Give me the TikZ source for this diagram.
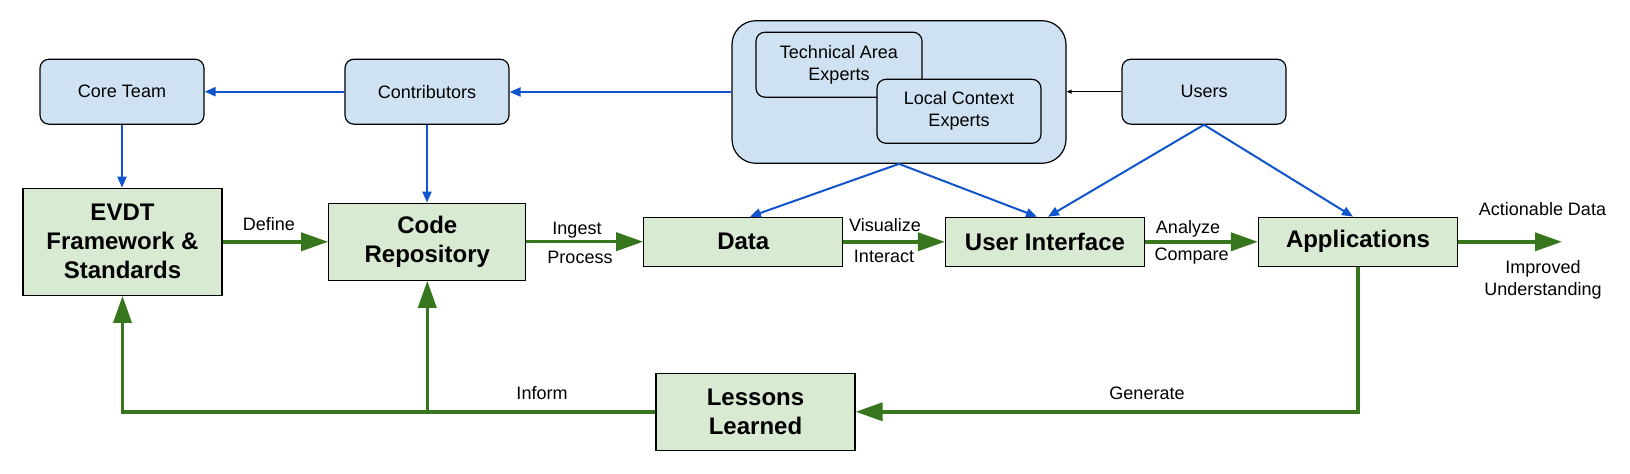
\documentclass[tikz,border=0pt]{standalone}
\usepackage{fontspec}
\setmainfont{Liberation Sans}
\usetikzlibrary{arrows.meta}
\definecolor{boxblue}{HTML}{CFE2F3}
\definecolor{boxgreen}{HTML}{D9EAD3}
\definecolor{lineblue}{HTML}{1155CC}
\definecolor{linegreen}{HTML}{38761D}
\begin{document}
\begin{tikzpicture}[x=0.5pt,y=-0.5pt,
  bluebox/.style={draw=black, line width=0.6pt, fill=boxblue, rounded corners=4.5pt, inner sep=0pt,
    minimum width=82pt, minimum height=32.5pt, font=\fontsize{9}{11}\selectfont, align=center},
  greenbox/.style={draw=black, line width=0.6pt, fill=boxgreen, inner sep=0pt,
    font=\bfseries\fontsize{12}{14.5}\selectfont, align=center, minimum width=99.5pt},
  bluearrow/.style={draw=lineblue, line width=1pt, -{Triangle[length=5.5pt,width=4.5pt]}},
  blackarrow/.style={draw=black, line width=0.5pt, -{Triangle[length=2.5pt,width=2pt]}},
  greenarrow/.style={draw=linegreen, line width=1.8pt, -{Triangle[length=13.5pt,width=9pt]}},
  lbl/.style={font=\fontsize{9}{10.8}\selectfont, inner sep=0pt, anchor=base, align=center}]
\useasboundingbox (0,0) rectangle (1630,474);

% top row
\node[bluebox] (core) at (122,91.7) {Core Team};
\node[bluebox] (contrib) at (427,91.7) {Contributors};
\node[bluebox, rounded corners=12pt, minimum width=167pt, minimum height=71.3pt] (experts) at (899,92) {};
\node[bluebox, minimum width=83pt] (tech) at (839,64.7) {Technical Area\\Experts};
\node[bluebox, minimum height=32pt] (local) at (959,111.3) {Local Context\\Experts};
\node[bluebox] (users) at (1204,91.7) {Users};

% green boxes
\node[greenbox, minimum height=53.5pt] (evdt) at (122.5,241.8) {EVDT\\Framework \&\\Standards};
\node[greenbox, minimum width=98.5pt, minimum height=38.5pt] (code) at (427.3,241.7) {Code\\Repository};
\node[greenbox, minimum height=24.5pt] (data) at (743.3,241.8) {Data};
\node[greenbox, minimum height=24.5pt] (ui) at (1045,241.8) {User Interface};
\node[greenbox, minimum height=24.5pt] (apps) at (1358,241.8) {Applications};
\node[greenbox, minimum height=38.5pt, font=\bfseries\fontsize{12}{14.3}\selectfont] (lessons) at (755.5,411.8) {Lessons\\Learned};

% blue connectors
\draw[bluearrow] (contrib.west) -- (core.east);
\draw[bluearrow] (core.south) -- (core.south |- evdt.north);
\draw[bluearrow] (contrib.south) -- (contrib.south |- code.north);
\draw[bluearrow] (experts.west) -- (experts.west -| contrib.east);
\draw[blackarrow] (users.west) -- (users.west -| experts.east);
\draw[bluearrow] (experts.south) -- ([xshift=3.3pt]data.north);
\draw[bluearrow] (experts.south) -- ([xshift=-4pt]ui.north);
\draw[bluearrow] (users.south) -- ([xshift=1.5pt]ui.north);
\draw[bluearrow] (users.south) -- ([xshift=-2.5pt]apps.north);

% green connectors
\coordinate (out) at (1562,241.8);
\coordinate (j) at (code.south |- lessons.west);
\draw[greenarrow] (evdt.east) -- (evdt.east -| code.west);
\draw[greenarrow] (code.east) -- (code.east -| data.west);
\draw[greenarrow] (data.east) -- (ui.west);
\draw[greenarrow] (ui.east) -- (apps.west);
\draw[greenarrow] (apps.east) -- (out);
\draw[greenarrow] (apps.south) |- (lessons.east);
\draw[greenarrow] (lessons.west) -| (evdt.south);
\draw[greenarrow] (j) -- (code.south);

% labels
\node[lbl] (ldefine) at (269,231) {Define};
\node[lbl] (lingest) at (577,235) {Ingest};
\node[lbl] (lprocess) at (580,263.5) {Process};
\node[lbl] (lvis) at (885,231.5) {Visualize};
\node[lbl] (linter) at (884,262.3) {Interact};
\node[lbl] (lanalyze) at (1188,234) {Analyze};
\node[lbl] (lcompare) at (1191.7,261) {Compare};
\node[lbl] (lact) at (1542.5,215.5) {Actionable Data};
\node[font=\fontsize{9}{10.8}\selectfont, inner sep=0pt, align=center] (limp) at (1543,280) {Improved\\Understanding};
\node[lbl] (linform) at (542,399.3) {Inform};
\node[lbl] (lgen) at (1147,399.3) {Generate};
\end{tikzpicture}
\end{document}
